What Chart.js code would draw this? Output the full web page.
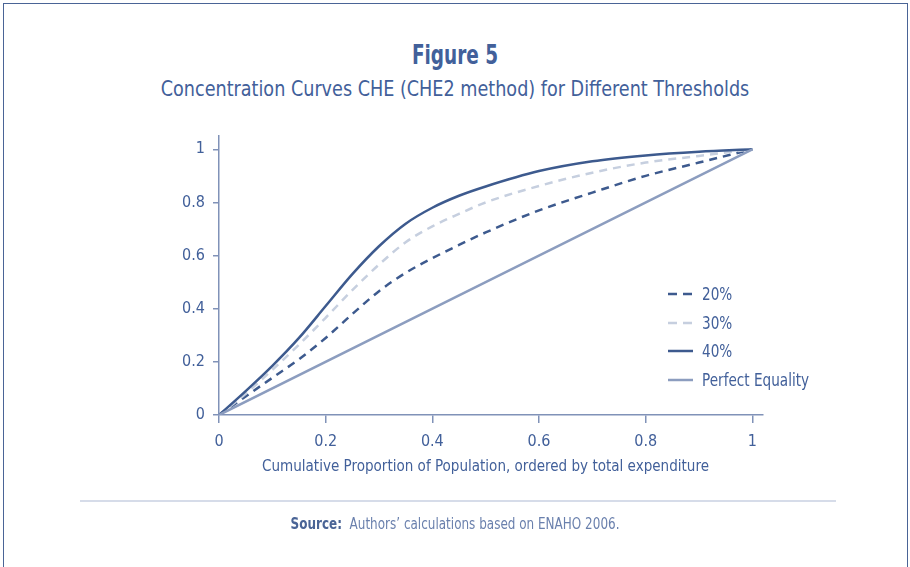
<!DOCTYPE html>
<html>
<head>
<meta charset="utf-8">
<script src="https://cdn.jsdelivr.net/npm/chart.js@4.4.1/dist/chart.umd.min.js"></script>
<style>
  body { margin: 0; background: #fff; }
  .page {
    position: relative; width: 910px; height: 567px; overflow: hidden;
    font-family: "DejaVu Sans Condensed", "Liberation Sans Narrow", "Noto Sans", sans-serif;
    color: #42609a;
  }
  .frame {
    position: absolute; left: 3px; top: 3px; width: 903px; height: 600px;
    border: 1.5px solid #4a6496; border-bottom: none;
  }
  .title { position: absolute; left: 0; width: 910px; top: 39px; text-align: center; font-size: 27px; font-weight: bold; transform: scaleX(0.76); }
  .subtitle { position: absolute; left: 0; width: 910px; top: 76px; text-align: center; font-size: 22px; transform: scaleX(0.89); }
  .xtitle { position: absolute; left: 219px; width: 533px; top: 456px; text-align: center; font-size: 16px; transform: scaleX(0.94); }
  .rule { position: absolute; left: 80px; width: 756px; top: 500px; height: 2px; background: #d6dce9; }
  .source { position: absolute; left: 0; width: 910px; top: 515px; text-align: center; font-size: 15px; color: #6a80ad; transform: scaleX(0.89); }
  .source b { color: #4a6496; font-weight: 600; }
  #wrap { position: absolute; left: 0; top: 0; width: 910px; height: 567px; }
  .legend { position: absolute; left: 668px; top: 280px; font-size: 17px; line-height: 28.5px; }
  .legend div { display: flex; align-items: center; }
  .legend svg { margin-right: 9px; }
  .legend span { display: inline-block; transform: scaleX(0.89); transform-origin: left center; }
</style>
</head>
<body>
<div class="page">
  <div class="frame"></div>
  <div class="title">Figure 5</div>
  <div class="subtitle">Concentration Curves CHE (CHE2 method) for Different Thresholds</div>
  <div id="wrap"><canvas id="chart" width="910" height="567"></canvas></div>
  <div class="xtitle">Cumulative Proportion of Population, ordered by total expenditure</div>
  <div class="legend" id="legend"></div>
  <div class="rule"></div>
  <div class="source"><b>Source:</b>&nbsp; Authors’ calculations based on ENAHO 2006.</div>
</div>
<script>
// cumulative population share (x) and cumulative CHE share (y)
const popShare = [0, 0.05, 0.1, 0.15, 0.2, 0.25, 0.3, 0.35, 0.4, 0.45, 0.5, 0.6, 0.7, 0.8, 0.9, 1];
const che20 = [0, 0.07, 0.14, 0.21, 0.29, 0.38, 0.466, 0.535, 0.59, 0.64, 0.687, 0.77, 0.837, 0.9, 0.95, 1];
const che30 = [0, 0.08, 0.17, 0.265, 0.366, 0.47, 0.566, 0.65, 0.71, 0.757, 0.8, 0.862, 0.912, 0.95, 0.975, 1];
const che40 = [0, 0.09, 0.185, 0.29, 0.41, 0.53, 0.635, 0.72, 0.78, 0.825, 0.86, 0.918, 0.955, 0.977, 0.991, 1];
const equalityX = [0, 1];
const equalityY = [0, 1];
const tickValues = [0, 0.2, 0.4, 0.6, 0.8, 1];

const dark = '#3d5a8e';
const light = '#c6cfdf';
const equal = '#8c9dbf';
const axisColor = '#8092b8';
const tickFont = { family: '"DejaVu Sans Condensed", sans-serif', size: 16 };

function pts(xs, ys) {
  return xs.map(function (x, i) { return { x: x, y: ys[i] }; });
}

const series = [
  { label: '20%', data: pts(popShare, che20), color: dark, dash: [8, 6] },
  { label: '30%', data: pts(popShare, che30), color: light, dash: [8, 6] },
  { label: '40%', data: pts(popShare, che40), color: dark, dash: [] },
  { label: 'Perfect Equality', data: pts(equalityX, equalityY), color: equal, dash: [] }
];

function keepTicks(scale) {
  scale.ticks = tickValues.map(function (v) { return { value: v }; });
}

function plain(v) { return String(v); }

const ctx = document.getElementById('chart');
new Chart(ctx, {
  type: 'line',
  data: {
    datasets: series.map(function (s) {
      return {
        label: s.label,
        data: s.data,
        borderColor: s.color,
        borderDash: s.dash,
        borderWidth: 2.5,
        pointRadius: 0,
        fill: false,
        cubicInterpolationMode: 'monotone'
      };
    }).reverse()
  },
  options: {
    responsive: false,
    animation: false,
    layout: { padding: { top: 136, right: 147, left: 0, bottom: 0 } },
    plugins: { legend: { display: false }, tooltip: { enabled: false } },
    scales: {
      x: {
        type: 'linear', min: 0, max: 1.02,
        afterBuildTicks: keepTicks,
        afterFit: function (s) { s.height = 152; },
        grid: { drawOnChartArea: false, tickLength: 8, color: axisColor, lineWidth: 1.5 },
        border: { color: axisColor, width: 1.5 },
        ticks: { color: '#42609a', padding: 9, maxRotation: 0, font: tickFont, callback: plain }
      },
      y: {
        type: 'linear', min: 0, max: 1.05,
        afterBuildTicks: keepTicks,
        afterFit: function (s) { s.width = 219; },
        grid: { drawOnChartArea: false, tickLength: 6, color: axisColor, lineWidth: 1.5 },
        border: { color: axisColor, width: 1.5 },
        ticks: { color: '#42609a', padding: 8, font: tickFont, callback: plain }
      }
    }
  }
});

// legend
const legend = document.getElementById('legend');
series.forEach(function (s) {
  const row = document.createElement('div');
  const dash = s.dash.length ? 'stroke-dasharray="9 6"' : '';
  row.innerHTML = '<svg width="25" height="4"><line x1="0" y1="2" x2="25" y2="2" stroke="' + s.color +
    '" stroke-width="2.5" ' + dash + '/></svg><span>' + s.label + '</span>';
  legend.appendChild(row);
});
</script>
</body>
</html>
